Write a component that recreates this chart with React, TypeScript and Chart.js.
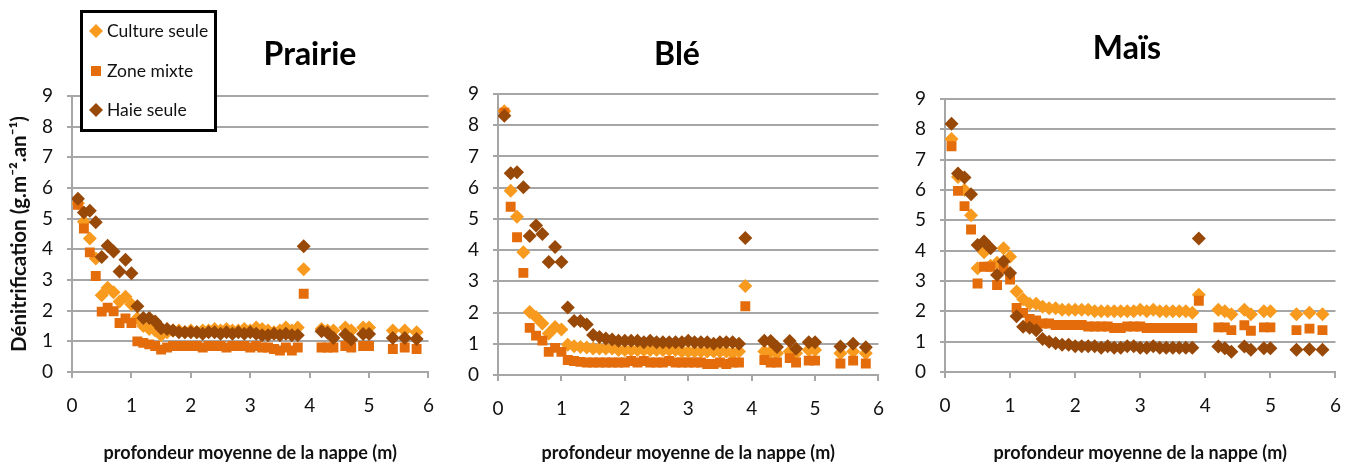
import React, { useEffect, useRef } from 'react';
import { Chart, registerables } from 'chart.js';

Chart.register(...registerables);

// Profondeur moyenne de la nappe (m)
const depth = [
  0.1, 0.2, 0.3, 0.4, 0.5, 0.6, 0.7, 0.8, 0.9, 1.0, 1.1, 1.2, 1.3, 1.4, 1.5, 1.6,
  1.7, 1.8, 1.9, 2.0, 2.1, 2.2, 2.3, 2.4, 2.5, 2.6, 2.7, 2.8, 2.9, 3.0, 3.1, 3.2,
  3.3, 3.4, 3.5, 3.6, 3.7, 3.8, 3.9, 4.2, 4.3, 4.4, 4.6, 4.7, 4.9, 5.0, 5.4, 5.6, 5.8,
];

const seriesLabels = ['Culture seule', 'Zone mixte', 'Haie seule'];

// Prairie
const prairieCulture = [
  5.5, 4.9, 4.35, 3.7, 2.5, 2.75, 2.6, 2.3, 2.45, 2.2, 1.75, 1.5, 1.4, 1.35, 1.2, 1.3,
  1.35, 1.35, 1.3, 1.35, 1.3, 1.35, 1.35, 1.4, 1.35, 1.4, 1.35, 1.35, 1.4, 1.35, 1.45, 1.4,
  1.35, 1.3, 1.35, 1.45, 1.35, 1.45, 3.35, 1.4, 1.35, 1.35, 1.45, 1.35, 1.45, 1.45, 1.35, 1.35, 1.3,
];
const prairieZone = [
  5.45, 4.68, 3.9, 3.13, 1.97, 2.1, 1.98, 1.6, 1.75, 1.6, 1.0, 0.95, 0.9, 0.85, 0.73, 0.8,
  0.85, 0.85, 0.85, 0.85, 0.85, 0.8, 0.85, 0.85, 0.85, 0.8, 0.85, 0.85, 0.85, 0.8, 0.85, 0.8,
  0.8, 0.75, 0.7, 0.8, 0.7, 0.8, 2.55, 0.8, 0.8, 0.8, 0.85, 0.8, 0.85, 0.85, 0.75, 0.8, 0.75,
];
const prairieHaie = [
  5.65, 5.2, 5.26, 4.88, 3.75, 4.12, 3.93, 3.28, 3.66, 3.22, 2.14, 1.76, 1.76, 1.65, 1.43, 1.4,
  1.35, 1.3, 1.3, 1.3, 1.3, 1.25, 1.3, 1.3, 1.25, 1.3, 1.25, 1.3, 1.25, 1.3, 1.25, 1.2,
  1.2, 1.25, 1.2, 1.25, 1.2, 1.2, 4.1, 1.33, 1.28, 1.11, 1.22, 1.06, 1.24, 1.24, 1.11, 1.11, 1.08,
];

// Blé
const bleCulture = [
  8.45, 5.9, 5.07, 3.93, 2.02, 1.86, 1.65, 1.33, 1.54, 1.46, 0.97, 0.92, 0.9, 0.88, 0.85, 0.85,
  0.85, 0.85, 0.8, 0.8, 0.8, 0.8, 0.8, 0.8, 0.8, 0.8, 0.8, 0.8, 0.75, 0.75, 0.75, 0.75,
  0.75, 0.75, 0.75, 0.75, 0.7, 0.75, 2.85, 0.75, 0.75, 0.7, 0.75, 0.7, 0.8, 0.8, 0.7, 0.75, 0.7,
];
const bleZone = [
  8.4, 5.39, 4.41, 3.27, 1.51, 1.26, 1.1, 0.74, 0.87, 0.74, 0.48, 0.45, 0.42, 0.4, 0.4, 0.4,
  0.4, 0.4, 0.4, 0.4, 0.45, 0.4, 0.45, 0.4, 0.4, 0.4, 0.45, 0.4, 0.4, 0.4, 0.4, 0.4,
  0.35, 0.35, 0.4, 0.35, 0.4, 0.4, 2.2, 0.48, 0.4, 0.4, 0.54, 0.4, 0.46, 0.46, 0.37, 0.46, 0.37,
];
const bleHaie = [
  8.3, 6.46, 6.49, 6.01, 4.45, 4.79, 4.52, 3.62, 4.1, 3.62, 2.16, 1.73, 1.73, 1.62, 1.28, 1.22,
  1.17, 1.14, 1.1, 1.1, 1.1, 1.1, 1.05, 1.1, 1.05, 1.05, 1.05, 1.05, 1.05, 1.1, 1.05, 1.05,
  1.05, 1.0, 1.05, 1.05, 1.05, 1.0, 4.39, 1.1, 1.09, 0.9, 1.09, 0.84, 1.05, 1.05, 0.91, 1.0, 0.89,
];

// Maïs
const maisCulture = [
  7.68, 6.43, 6.0, 5.17, 3.42, 3.95, 3.5, 3.6, 4.08, 3.8, 2.65, 2.4, 2.25, 2.25, 2.15, 2.1,
  2.1, 2.05, 2.05, 2.05, 2.05, 2.05, 2.0, 2.0, 2.0, 2.0, 2.0, 2.0, 2.0, 2.05, 2.0, 2.05,
  2.0, 2.0, 2.0, 2.0, 2.0, 1.95, 2.55, 2.05, 2.0, 1.9, 2.05, 1.9, 2.0, 2.0, 1.9, 1.95, 1.9,
];
const maisZone = [
  7.44, 5.97, 5.47, 4.7, 2.92, 3.47, 3.47, 2.87, 3.4, 3.05, 2.11, 1.95, 1.75, 1.7, 1.6, 1.6,
  1.55, 1.55, 1.55, 1.55, 1.55, 1.5, 1.5, 1.5, 1.5, 1.45, 1.45, 1.5, 1.5, 1.5, 1.45, 1.45,
  1.45, 1.45, 1.45, 1.45, 1.45, 1.45, 2.35, 1.47, 1.47, 1.38, 1.54, 1.36, 1.47, 1.47, 1.38, 1.43, 1.38,
];
const maisHaie = [
  8.18, 6.54, 6.41, 5.86, 4.19, 4.3, 4.08, 3.2, 3.64, 3.26, 1.84, 1.49, 1.46, 1.38, 1.09, 1.0,
  0.95, 0.9, 0.9, 0.85, 0.85, 0.85, 0.85, 0.8, 0.85, 0.8, 0.8, 0.85, 0.85, 0.8, 0.8, 0.85,
  0.8, 0.8, 0.8, 0.8, 0.8, 0.8, 4.4, 0.84, 0.78, 0.67, 0.84, 0.73, 0.78, 0.78, 0.73, 0.75, 0.73,
];

const COLORS = ['#F79A1E', '#E46C0A', '#984807'];
const STYLES = ['rectRot', 'rect', 'rectRot'];
const GRID = '#a6a6a6';
const FONT = 'Lato, "Open Sans", sans-serif';

const decorPlugin = {
  id: 'panelDecor',
  afterDraw(chart: any, _args: any, opts: any) {
    const ctx = chart.ctx;
    ctx.save();
    ctx.fillStyle = '#000';
    ctx.font = `bold ${opts.titleSize}px ${FONT}`;
    ctx.textAlign = 'center';
    ctx.textBaseline = 'alphabetic';
    ctx.fillText(opts.title, opts.titleX, opts.titleY);
    if (opts.legend) {
      const L = opts.legend;
      ctx.fillStyle = '#fff';
      ctx.fillRect(L.x, L.y, L.w, L.h);
      ctx.strokeStyle = '#000';
      ctx.lineWidth = 3;
      ctx.strokeRect(L.x + 1.5, L.y + 1.5, L.w - 3, L.h - 3);
      seriesLabels.forEach((lab, i) => {
        const cy = L.rows[i];
        const cx = L.markerX;
        ctx.fillStyle = COLORS[i];
        ctx.beginPath();
        if (STYLES[i] === 'rect') {
          ctx.rect(cx - 5, cy - 5, 10, 10);
        } else {
          ctx.moveTo(cx - 7, cy);
          ctx.lineTo(cx, cy - 7);
          ctx.lineTo(cx + 7, cy);
          ctx.lineTo(cx, cy + 7);
          ctx.closePath();
        }
        ctx.fill();
        ctx.fillStyle = '#111';
        ctx.font = `17.5px ${FONT}`;
        ctx.textAlign = 'left';
        ctx.textBaseline = 'middle';
        ctx.fillText(lab, L.textX, cy);
      });
    }
    ctx.restore();
  },
};

type PanelCfg = {
  left: number;
  width: number;
  title: string;
  titleX: number;
  titleY: number;
  series: number[][];
  padTop: number;
  padRight: number;
  yWidth: number;
  xHeight: number;
  yTitle: boolean;
  legend?: any;
};

function Panel({ cfg }: { cfg: PanelCfg }) {
  const ref = useRef<HTMLCanvasElement | null>(null);
  useEffect(() => {
    if (!ref.current) return;
    const datasets = cfg.series.map((vals, i) => ({
      label: seriesLabels[i],
      data: depth.map((x, j) => ({ x, y: vals[j] })),
      pointStyle: STYLES[i],
      pointRadius: 7,
      pointHoverRadius: 7,
      pointBackgroundColor: COLORS[i],
      backgroundColor: COLORS[i],
      pointBorderWidth: 0,
      borderWidth: 0,
      showLine: false,
      order: 3 - i,
    }));
    const chart = new Chart(ref.current, {
      type: 'scatter',
      data: { datasets },
      plugins: [decorPlugin],
      options: {
        responsive: false,
        animation: false,
        events: [],
        layout: { padding: { top: cfg.padTop, right: cfg.padRight, bottom: 0, left: 0 } },
        plugins: {
          legend: { display: false },
          tooltip: { enabled: false },
          title: { display: false },
          panelDecor: {
            title: cfg.title,
            titleX: cfg.titleX,
            titleY: cfg.titleY,
            titleSize: 32,
            legend: cfg.legend,
          },
        } as any,
        scales: {
          x: {
            type: 'linear',
            min: 0,
            max: 6,
            ticks: { stepSize: 1, padding: 16, color: '#111', font: { family: FONT, size: 19 } },
            grid: { drawOnChartArea: false, drawTicks: true, tickLength: 6, color: GRID, lineWidth: 2 },
            border: { display: true, color: GRID, width: 2 },
            title: {
              display: true,
              text: 'profondeur moyenne de la nappe (m)',
              color: '#111',
              font: { family: FONT, size: 18, weight: 'bold' },
              padding: { top: 0, bottom: 1 },
            },
            afterFit: (s: any) => {
              s.height = cfg.xHeight;
            },
          },
          y: {
            type: 'linear',
            min: 0,
            max: 9,
            ticks: { stepSize: 1, padding: 14, color: '#111', font: { family: FONT, size: 19 } },
            grid: { color: GRID, lineWidth: 2, tickLength: 5 },
            border: { display: true, color: GRID, width: 2 },
            title: {
              display: cfg.yTitle,
              text: 'Dénitrification (g.m⁻².an⁻¹)',
              color: '#111',
              font: { family: FONT, size: 20.5, weight: 'bold' },
              padding: { top: 7, bottom: 0 },
            },
            afterFit: (s: any) => {
              s.width = cfg.yWidth;
            },
          },
        },
      } as any,
    });
    return () => chart.destroy();
  }, [cfg]);
  return (
    <canvas
      ref={ref}
      width={cfg.width}
      height={465}
      style={{ position: 'absolute', left: cfg.left, top: 0, width: cfg.width, height: 465 }}
    />
  );
}

const panels: PanelCfg[] = [
  {
    left: 0,
    width: 450,
    title: 'Prairie',
    titleX: 310,
    titleY: 65,
    series: [prairieCulture, prairieZone, prairieHaie],
    padTop: 96,
    padRight: 9,
    yWidth: 72,
    xHeight: 93,
    yTitle: true,
    legend: { x: 80, y: 10, w: 137, h: 122, markerX: 96, textX: 107, rows: [31, 71, 110] },
  },
  {
    left: 450,
    width: 450,
    title: 'Blé',
    titleX: 227,
    titleY: 65,
    series: [bleCulture, bleZone, bleHaie],
    padTop: 94,
    padRight: 15,
    yWidth: 48,
    xHeight: 90,
    yTitle: false,
  },
  {
    left: 900,
    width: 457,
    title: 'Maïs',
    titleX: 227,
    titleY: 59,
    series: [maisCulture, maisZone, maisHaie],
    padTop: 99,
    padRight: 16,
    yWidth: 45,
    xHeight: 93,
    yTitle: false,
  },
];

export default function App() {
  return (
    <div style={{ position: 'absolute', left: 0, top: 0, width: 1357, height: 465, background: '#fff' }}>
      {panels.map((p, i) => (
        <Panel key={i} cfg={p} />
      ))}
    </div>
  );
}
